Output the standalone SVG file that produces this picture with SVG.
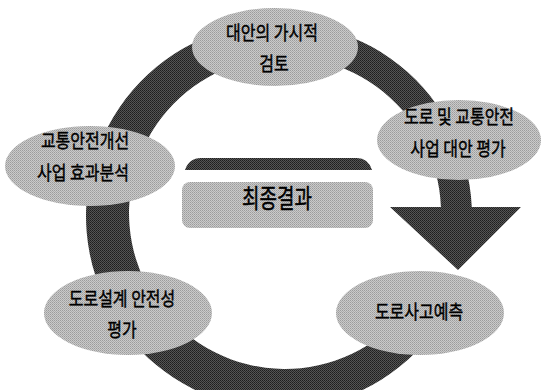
<svg xmlns="http://www.w3.org/2000/svg" width="541" height="390" viewBox="0 0 541 390">
<defs>
<pattern id="lite" width="2" height="2" patternUnits="userSpaceOnUse">
<rect width="2" height="2" fill="#cacaca"/>
<rect width="1" height="1" fill="#9c9c9c"/>
<rect x="1" y="1" width="1" height="1" fill="#acacac"/>
</pattern>
<pattern id="dark" width="2" height="2" patternUnits="userSpaceOnUse">
<rect width="2" height="2" fill="#555555"/>
<rect width="1" height="1" fill="#1e1e1e"/>
<rect x="1" y="1" width="1" height="1" fill="#2a2a2a"/>
</pattern>
<style>
.node ellipse{fill:url(#lite);}
.ring{fill:url(#dark);}
text{font-family:"Noto Sans CJK KR","Noto Sans",sans-serif;font-size:16px;fill:#000;stroke:#000;stroke-width:0.35px;text-anchor:middle;}
.big{font-size:19px;}
</style>
</defs>
<rect width="541" height="390" fill="#ffffff"/>
<g id="connectors">
<path class="ring" d="M 415.5 352.5 A 193 193 0 1 1 471.8 207 L 440.9 207 A 156 156 0 1 0 395.3 323.3 Z"/>
<polygon class="ring" points="390,207 521,207 458,270"/>
</g>
<g id="result">
<path d="M 185 170 Q 189 158 201 158 L 357 158 Q 368 158 372 170 Z" fill="url(#dark)"/>
<rect x="182" y="182" width="191" height="46" rx="8" fill="url(#lite)"/>
<text class="big" transform="translate(277,208) scale(1,1.35)">최종결과</text>
</g>
<g id="n1" class="node">
<ellipse cx="275" cy="47" rx="83" ry="39"/>
<text transform="translate(272,40) scale(1,1.2)">대안의 가시적</text>
<text transform="translate(274,71) scale(1,1.2)">검토</text>
</g>
<g id="n2" class="node">
<ellipse cx="459" cy="140" rx="82" ry="40"/>
<text transform="translate(459,124) scale(1,1.2)">도로 및 교통안전</text>
<text transform="translate(458,156) scale(1,1.2)">사업 대안 평가</text>
</g>
<g id="n3" class="node">
<ellipse cx="90" cy="166" rx="85" ry="40"/>
<text transform="translate(85,148) scale(1,1.2)">교통안전개선</text>
<text transform="translate(83,180) scale(1,1.2)">사업 효과분석</text>
</g>
<g id="n4" class="node">
<ellipse cx="128" cy="313" rx="84" ry="42"/>
<text transform="translate(122,306) scale(1,1.2)">도로설계 안전성</text>
<text transform="translate(122,337) scale(1,1.2)">평가</text>
</g>
<g id="n5" class="node">
<ellipse cx="420" cy="313" rx="84" ry="42"/>
<text transform="translate(419,319) scale(1,1.2)">도로사고예측</text>
</g>
</svg>
